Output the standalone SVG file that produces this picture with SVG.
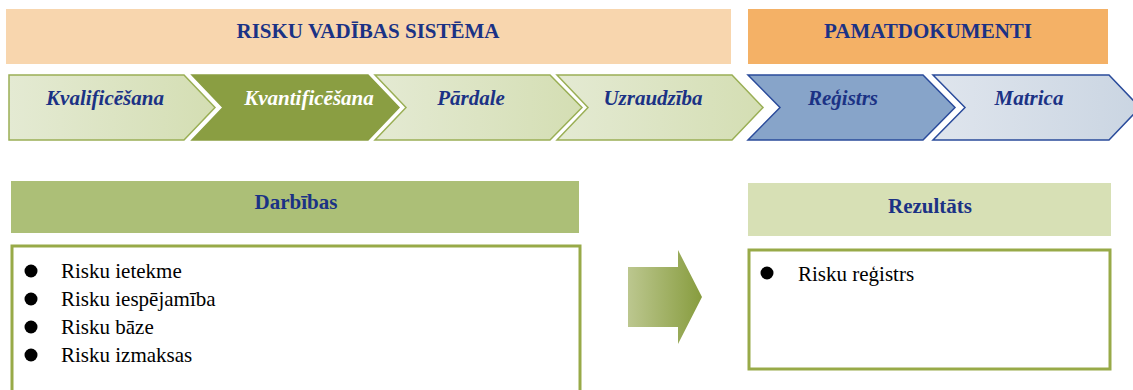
<svg xmlns="http://www.w3.org/2000/svg" width="1133" height="390" viewBox="0 0 1133 390">
  <defs>
    <linearGradient id="gLight" x1="0" y1="0" x2="1" y2="0">
      <stop offset="0" stop-color="#E4EAD3"/>
      <stop offset="1" stop-color="#D4DEB3"/>
    </linearGradient>
    <linearGradient id="gBlue" x1="0" y1="0" x2="1" y2="0">
      <stop offset="0" stop-color="#DFE5ED"/>
      <stop offset="1" stop-color="#CAD5E2"/>
    </linearGradient>
    <linearGradient id="gArrow" x1="0" y1="0" x2="1" y2="0">
      <stop offset="0" stop-color="#BCC78F"/>
      <stop offset="1" stop-color="#879C3E"/>
    </linearGradient>
    <style>
      text { font-family: 'Liberation Serif', Tinos, 'Times New Roman', 'DejaVu Serif', serif; }
      .hdr { font-weight: bold; font-size: 21px; fill: #1B3285; text-anchor: middle; }
      .chv { font-weight: bold; font-style: italic; font-size: 21px; fill: #1B3285; text-anchor: middle; }
      .item { font-size: 21px; fill: #000000; }
      .lg { fill: url(#gLight); stroke: #9AAF55; stroke-width: 1.5; }
      .dg { fill: #8A9E42; stroke: #8A9E42; stroke-width: 1.5; }
      .bl { fill: #87A4C9; stroke: #2A4B9B; stroke-width: 1.5; }
      .lb { fill: url(#gBlue); stroke: #2A4B9B; stroke-width: 1.5; }
      .box { fill: #FFFFFF; stroke: #98AA48; stroke-width: 3; }
    </style>
  </defs>

  <g id="risku-vadibas-sistema">
    <rect x="6" y="9" width="725" height="55" fill="#F8D6AE"/>
    <text class="hdr" x="368" y="38">RISKU VADĪBAS SISTĒMA</text>
  </g>
  <g id="pamatdokumenti">
    <rect x="748" y="9" width="360" height="55" fill="#F4B166"/>
    <text class="hdr" x="928" y="38">PAMATDOKUMENTI</text>
  </g>

  <g id="kvalificesana">
    <path class="lg" d="M9,75 L184,75 L215,107.5 L184,140 L9,140 Z"/>
    <text class="chv" x="105" y="105">Kvalificēšana</text>
  </g>
  <g id="kvantificesana">
    <path class="dg" d="M192,75 L368,75 L399,107.5 L368,140 L192,140 L223,107.5 Z"/>
    <text class="chv" x="309" y="105" style="fill:#FFFFFF">Kvantificēšana</text>
  </g>
  <g id="pardale">
    <path class="lg" d="M375,75 L550,75 L582,107.5 L550,140 L375,140 L406,107.5 Z"/>
    <text class="chv" x="471" y="105">Pārdale</text>
  </g>
  <g id="uzraudziba">
    <path class="lg" d="M557,75 L732,75 L763,107.5 L732,140 L557,140 L588,107.5 Z"/>
    <text class="chv" x="653" y="105">Uzraudzība</text>
  </g>
  <g id="registrs">
    <path class="bl" d="M748,75 L923,75 L955,107.5 L923,140 L748,140 L780,107.5 Z"/>
    <text class="chv" x="843" y="105">Reģistrs</text>
  </g>
  <g id="matrica">
    <path class="lb" d="M933,75 L1109,75 L1140,107.5 L1109,140 L933,140 L965,107.5 Z"/>
    <text class="chv" x="1029" y="105">Matrica</text>
  </g>

  <g id="darbibas">
    <rect x="11" y="181" width="568" height="52" fill="#ACBF77"/>
    <text class="hdr" x="296" y="209">Darbības</text>
  </g>
  <g id="darbibas-list">
    <rect class="box" x="12" y="246" width="568" height="160"/>
    <circle cx="31" cy="271" r="6.5"/>
    <text class="item" x="61" y="278">Risku ietekme</text>
    <circle cx="31" cy="299" r="6.5"/>
    <text class="item" x="61" y="306">Risku iespējamība</text>
    <circle cx="31" cy="327" r="6.5"/>
    <text class="item" x="61" y="334">Risku bāze</text>
    <circle cx="31" cy="355" r="6.5"/>
    <text class="item" x="61" y="362">Risku izmaksas</text>
  </g>

  <g id="connectors">
    <path d="M628,267 L678,267 L678,250 L702,297 L678,344 L678,327 L628,327 Z" fill="url(#gArrow)"/>
  </g>

  <g id="rezultats">
    <rect x="748" y="183" width="363" height="53" fill="#D7E0B5"/>
    <text class="hdr" x="930" y="213">Rezultāts</text>
  </g>
  <g id="rezultats-list">
    <rect class="box" x="749" y="250" width="361" height="119"/>
    <circle cx="767" cy="273" r="6.5"/>
    <text class="item" x="798" y="281">Risku reģistrs</text>
  </g>
</svg>
